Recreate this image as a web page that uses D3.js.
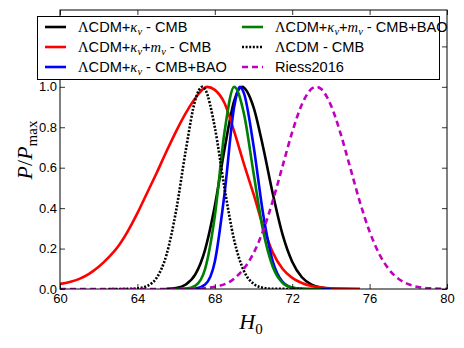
<!DOCTYPE html>
<html>
<head>
<meta charset="utf-8">
<script src="https://cdn.jsdelivr.net/npm/d3@7"></script>
<style>
  body { margin: 0; background: #fff; }
  text { fill: #000; }
</style>
</head>
<body>
<div id="chart"></div>
<script>
// H0 grid and normalised posteriors
const hKCmb = [65.5, 66, 66.5, 67, 67.5, 68, 68.5, 69, 69.4, 70, 70.5, 71, 71.5, 72, 72.5, 73, 73.5, 74, 74.5, 75.5];
const pKCmb = [0.001, 0.005, 0.022, 0.073, 0.195, 0.41, 0.69, 0.93, 1.0, 0.9, 0.7, 0.47, 0.27, 0.135, 0.058, 0.022, 0.007, 0.002, 0.0005, 0];

const hKMCmb = [60, 60.5, 61, 61.5, 62, 62.5, 63, 63.5, 64, 64.5, 65, 65.5, 66, 66.5, 67, 67.6, 68, 68.5, 69, 69.5, 70, 70.5, 71, 71.5, 72, 72.5, 73, 73.5, 74, 74.5, 75.5];
const pKMCmb = [0.025, 0.035, 0.05, 0.075, 0.11, 0.155, 0.21, 0.285, 0.375, 0.475, 0.575, 0.68, 0.78, 0.87, 0.945, 1.0, 0.985, 0.92, 0.78, 0.62, 0.47, 0.31, 0.18, 0.1, 0.055, 0.03, 0.015, 0.007, 0.003, 0.001, 0];

const hKBao = [66.5, 67, 67.5, 68, 68.5, 69, 69.3, 69.5, 70, 70.5, 71, 71.5, 72, 72.5, 73, 74];
const pKBao = [0, 0.002, 0.022, 0.135, 0.47, 0.9, 1.0, 0.97, 0.71, 0.37, 0.135, 0.035, 0.0065, 0.001, 0, 0];

const hKMBao = [66, 66.5, 67, 67.5, 68, 68.5, 69, 69.5, 70, 70.5, 71, 71.5, 72, 72.5, 73.5];
const pKMBao = [0, 0.002, 0.017, 0.1, 0.36, 0.775, 1.0, 0.87, 0.575, 0.287, 0.109, 0.031, 0.007, 0.001, 0];

const hLcdm = [62.5, 63, 63.5, 64, 64.5, 65, 65.5, 66, 66.5, 67, 67.35, 67.5, 68, 68.5, 69, 69.5, 70, 70.5, 71, 72.5];
const pLcdm = [0, 0.0002, 0.0006, 0.003, 0.015, 0.056, 0.168, 0.387, 0.686, 0.938, 1.0, 0.988, 0.8, 0.5, 0.242, 0.09, 0.026, 0.006, 0.001, 0];

const hRiess = [60, 62, 64, 66, 67, 68, 69, 70, 70.5, 71, 71.5, 72, 72.5, 73, 73.24, 73.5, 74, 74.5, 75, 75.5, 76, 76.5, 77, 78, 79, 80];
const pRiess = [0, 0, 0, 0.0002, 0.0016, 0.011, 0.051, 0.177, 0.289, 0.437, 0.607, 0.776, 0.913, 0.99, 1.0, 0.989, 0.909, 0.769, 0.6, 0.43, 0.284, 0.173, 0.097, 0.024, 0.004, 0.0005];

const xTicks = [60, 64, 68, 72, 76, 80];
const yTicks = [0, 0.2, 0.4, 0.6, 0.8, 1.0, 1.2];

const W = 464, H = 348;
const margin = { top: 10, right: 17, bottom: 59, left: 60 };
const width = W - margin.left - margin.right,
  height = H - margin.top - margin.bottom;

const svg = d3
  .select("#chart")
  .append("svg")
  .attr("width", W)
  .attr("height", H);

const g = svg.append("g").attr("transform", `translate(${margin.left}, ${margin.top})`);

const x = d3.scaleLinear().domain([60, 80]).range([0, width]);
const y = d3.scaleLinear().domain([0, 1.38]).range([height, 0]);

svg.append("defs").append("clipPath").attr("id", "clip")
  .append("rect").attr("width", width).attr("height", height);

const series = [
  { h: hKCmb, p: pKCmb, color: "#000000", dash: null },
  { h: hKMCmb, p: pKMCmb, color: "#ff0000", dash: null },
  { h: hKBao, p: pKBao, color: "#0000ff", dash: null },
  { h: hKMBao, p: pKMBao, color: "#008000", dash: null },
  { h: hLcdm, p: pLcdm, color: "#000000", dash: "2,1.6" },
  { h: hRiess, p: pRiess, color: "#bf00bf", dash: "6,4" }
];

const line = d3.line()
  .x((d) => x(d[0]))
  .y((d) => y(d[1]))
  .curve(d3.curveMonotoneX);

g.append("g").attr("clip-path", "url(#clip)")
  .selectAll("path")
  .data(series)
  .join("path")
  .attr("d", (s) => line(d3.zip(s.h, s.p)))
  .attr("fill", "none")
  .attr("stroke", (s) => s.color)
  .attr("stroke-width", 2.6)
  .attr("stroke-dasharray", (s) => s.dash);

// axes, ticks pointing inward on all four sides
const tickFont = "'Liberation Sans', Arial, sans-serif";
const fmt = d3.format(".1f");

const axB = g.append("g").attr("transform", `translate(0, ${height})`)
  .call(d3.axisBottom(x).tickValues(xTicks).tickSizeInner(-5).tickSizeOuter(0).tickPadding(5));
const axT = g.append("g")
  .call(d3.axisTop(x).tickValues(xTicks).tickSizeInner(-5).tickSizeOuter(0).tickFormat(""));
const axL = g.append("g")
  .call(d3.axisLeft(y).tickValues(yTicks).tickSizeInner(-5).tickSizeOuter(0).tickPadding(3)
    .tickFormat((d) => (d > 1.1 ? "" : fmt(d))));
const axR = g.append("g").attr("transform", `translate(${width}, 0)`)
  .call(d3.axisRight(y).tickValues(yTicks).tickSizeInner(-5).tickSizeOuter(0).tickFormat(""));

[axB, axT, axL, axR].forEach((a) => {
  a.select(".domain").remove();
  a.selectAll("line").attr("stroke", "#000").attr("stroke-width", 0.8);
  a.selectAll("text").style("font-family", tickFont).style("font-size", "13px");
});

g.append("rect")
  .attr("width", width)
  .attr("height", height)
  .attr("fill", "none")
  .attr("stroke", "#000")
  .attr("stroke-width", 1);

// axis labels
const mathFont = "'Liberation Serif', 'Times New Roman', serif";

const yl = svg.append("text")
  .attr("transform", "translate(32, 150) rotate(-90)")
  .attr("text-anchor", "middle")
  .style("font-family", mathFont)
  .style("font-size", "22px");
yl.append("tspan").style("font-style", "italic").text("P");
yl.append("tspan").text("/");
yl.append("tspan").style("font-style", "italic").text("P");
yl.append("tspan").attr("dy", 5).style("font-size", "15px").text("max");

const xl = svg.append("text")
  .attr("x", 251)
  .attr("y", 329)
  .attr("text-anchor", "middle")
  .style("font-family", mathFont)
  .style("font-size", "22px");
xl.append("tspan").style("font-style", "italic").text("H");
xl.append("tspan").attr("dy", 5).style("font-size", "15px").text("0");

// legend
const sans = "'Liberation Sans', Arial, sans-serif";
const legendItems = [
  { s: 0, parts: [["Λ", "m"], ["CDM+", "s"], ["κ", "i"], ["ν", "sub"], [" - CMB", "s"]] },
  { s: 1, parts: [["Λ", "m"], ["CDM+", "s"], ["κ", "i"], ["ν", "sub"], ["+", "s"], ["m", "i"], ["ν", "sub"], [" - CMB", "s"]] },
  { s: 2, parts: [["Λ", "m"], ["CDM+", "s"], ["κ", "i"], ["ν", "sub"], [" - CMB+BAO", "s"]] },
  { s: 3, parts: [["Λ", "m"], ["CDM+", "s"], ["κ", "i"], ["ν", "sub"], ["+", "s"], ["m", "i"], ["ν", "sub"], [" - CMB+BAO", "s"]] },
  { s: 4, parts: [["Λ", "m"], ["CDM - CMB", "s"]] },
  { s: 5, parts: [["Riess2016", "s"]] }
];

const lg = svg.append("g");
lg.append("rect")
  .attr("x", 37.5).attr("y", 16.5)
  .attr("width", 402).attr("height", 63)
  .attr("fill", "#fff")
  .attr("stroke", "#000")
  .attr("stroke-width", 1);

legendItems.forEach((item, i) => {
  const col = Math.floor(i / 3), row = i % 3;
  const lx = col === 0 ? 45 : 242;
  const ly = 27 + row * 20;
  const s = series[item.s];
  lg.append("line")
    .attr("x1", lx).attr("x2", lx + 21)
    .attr("y1", ly).attr("y2", ly)
    .attr("stroke", s.color)
    .attr("stroke-width", 2.6)
    .attr("stroke-dasharray", s.dash);
  const t = lg.append("text")
    .attr("x", lx + 33)
    .attr("y", ly + 5)
    .style("font-size", "14.6px");
  let sub = false;
  item.parts.forEach(([txt, kind]) => {
    const ts = t.append("tspan").text(txt);
    let dy = 0;
    if (kind === "sub") { dy = sub ? 0 : 3; sub = true; }
    else if (sub) { dy = -3; sub = false; }
    if (dy) ts.attr("dy", dy);
    if (kind === "s") ts.style("font-family", sans);
    if (kind === "m") ts.style("font-family", mathFont);
    if (kind === "i") ts.style("font-family", mathFont).style("font-style", "italic");
    if (kind === "sub") ts.style("font-family", mathFont).style("font-style", "italic").style("font-size", "10.5px");
  });
});
</script>
</body>
</html>
